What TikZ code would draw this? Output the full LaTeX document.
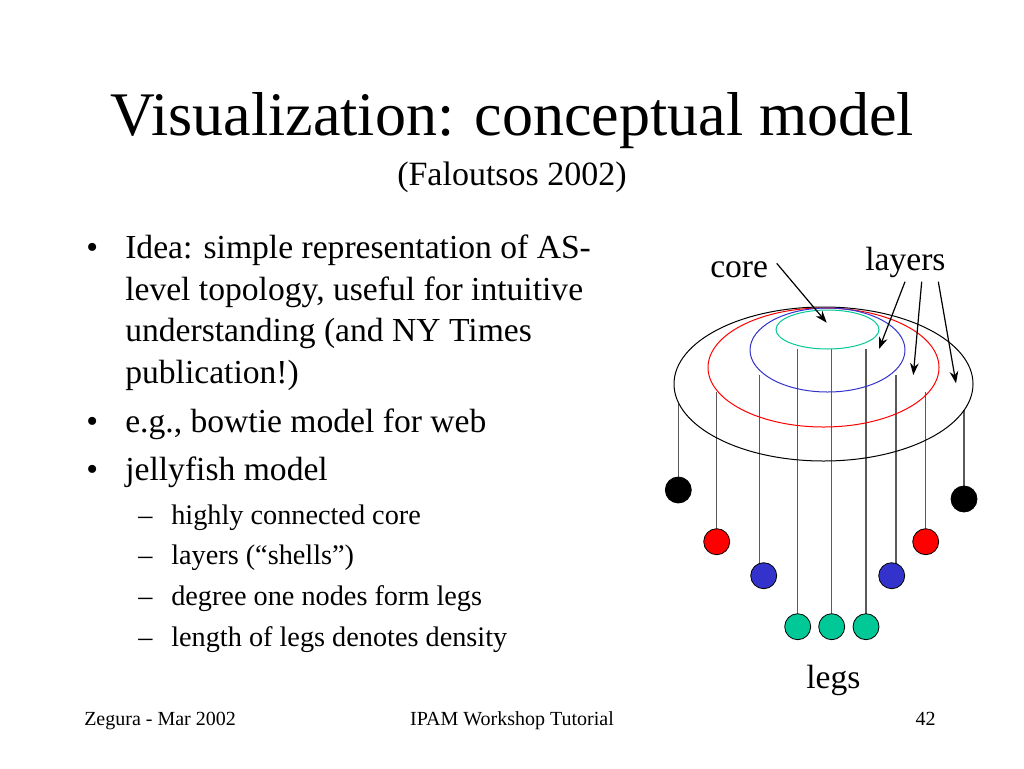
\documentclass[tikz,border=0pt]{standalone}
\usepackage{fontspec}
\setmainfont{Liberation Serif}
\usetikzlibrary{arrows.meta,backgrounds}
\definecolor{cgreen}{HTML}{00C896}
\definecolor{cblue}{HTML}{3333CC}
\definecolor{cred}{HTML}{FF0000}
\definecolor{legc}{HTML}{5A5A5A}
\tikzset{
  txt/.style={inner sep=0pt, anchor=base west},
  ball/.style={circle, draw=black, line width=0.6pt, minimum size=19.5pt, inner sep=0pt},
  legline/.style={draw=legc, line width=1.1pt},
  shell/.style={line width=0.75pt},
  pointer/.style={draw=black, line width=0.9pt, -{Stealth[length=9pt,width=6.5pt]}},
}
\begin{document}
\begin{tikzpicture}[x=0.75pt,y=-0.75pt]
\useasboundingbox (0,0) rectangle (1024,768);

% Title
\node[inner sep=0pt, anchor=base] (title) at (512,135) {\fontsize{46.5}{50}\selectfont Visualization: conceptual model};
\node[inner sep=0pt, anchor=base] (subtitle) at (512,185) {\fontsize{25.5}{28}\selectfont (Faloutsos 2002)};

% Bullets
\begin{scope}[every node/.append style={font=\fontsize{25.2}{30}\selectfont}]
\node[txt] (b1) at (86,258) {•};
\node[txt] (l1) at (125,258) {Idea: simple representation of AS-};
\node[txt] (l2) at (125,300) {level topology, useful for intuitive};
\node[txt] (l3) at (125,341) {understanding (and NY Times};
\node[txt] (l4) at (125,383) {publication!)};
\node[txt] (b2) at (86,432) {•};
\node[txt] (l5) at (125,432) {e.g., bowtie model for web};
\node[txt] (b3) at (86,480) {•};
\node[txt] (l6) at (125,480) {jellyfish model};
\end{scope}
\begin{scope}[every node/.append style={font=\fontsize{21.2}{24}\selectfont}]
\node[txt] (d1) at (138,524) {–};
\node[txt] (s1) at (171,524) {highly connected core};
\node[txt] (d2) at (138,564) {–};
\node[txt] (s2) at (171,564) {layers (“shells”)};
\node[txt] (d3) at (138,605) {–};
\node[txt] (s3) at (171,605) {degree one nodes form legs};
\node[txt] (d4) at (138,646) {–};
\node[txt] (s4) at (171,646) {length of legs denotes density};
\end{scope}

% Footer
\node[inner sep=0pt, anchor=base west] (f1) at (84,725) {\fontsize{15}{17}\selectfont Zegura - Mar 2002};
\node[inner sep=0pt, anchor=base] (f2) at (512,725) {\fontsize{15}{17}\selectfont IPAM Workshop Tutorial};
\node[inner sep=0pt, anchor=base east] (f3) at (936,725) {\fontsize{15}{17}\selectfont 42};

% Shells
\draw[shell, black] (823.5,384) ellipse [x radius=149.5, y radius=77];
\draw[shell, cred] (823.5,367.5) ellipse [x radius=115.5, y radius=59.5];
\draw[shell, cblue] (827.5,350) ellipse [x radius=77.5, y radius=42];
\draw[shell, cgreen] (827.5,329.5) ellipse [x radius=51.5, y radius=19.5];

% Balls
\node[ball, fill=black] (k1) at (678.3,490) {};
\node[ball, fill=cred] (r1) at (716.7,541.7) {};
\node[ball, fill=cblue] (u1) at (763.7,575.7) {};
\node[ball, fill=cgreen] (g1) at (797.7,626.7) {};
\node[ball, fill=cgreen] (g2) at (831.7,626.7) {};
\node[ball, fill=cgreen] (g3) at (866,626.7) {};
\node[ball, fill=cblue] (u2) at (891.7,575.7) {};
\node[ball, fill=cred] (r2) at (925.7,541.7) {};
\node[ball, fill=black] (k2) at (964,499) {};

% Leg tops
\coordinate (tk1) at (678.3,404);
\coordinate (tr1) at (716.7,392);
\coordinate (tu1) at (759.3,375);
\coordinate (tg1) at (797.7,349);
\coordinate (tg2) at (831.7,349);
\coordinate (tg3) at (866,349);
\coordinate (tu2) at (896,375);
\coordinate (tr2) at (925.7,392);
\coordinate (tk2) at (964,410);

\begin{scope}[on background layer]
\fill[white] (0,0) rectangle (1024,768);
\draw[legline] (tk1) -- (k1.center);
\draw[legline] (tr1) -- (r1.center);
\draw[legline] (tu1) -- (tu1 |- u1.center);
\draw[legline] (tg1) -- (g1.center);
\draw[legline] (tg2) -- (g2.center);
\draw[legline] (tg3) -- (g3.center);
\draw[legline] (tu2) -- (tu2 |- u2.center);
\draw[legline] (tr2) -- (r2.center);
\draw[legline] (tk2) -- (k2.center);
\end{scope}

% Labels
\node[txt, font=\fontsize{25.2}{28}\selectfont] (core) at (710,277) {core};
\node[txt, font=\fontsize{25.2}{28}\selectfont] (layers) at (865,270) {layers};
\node[txt, font=\fontsize{25.2}{28}\selectfont] (legs) at (806,688) {legs};

% Pointers
\coordinate (pc) at (826.7,322.7);
\coordinate (pl1) at (879,349);
\coordinate (pl2) at (913.3,375);
\coordinate (pl3) at (956,383.3);
\draw[pointer] (776.7,263.3) -- (pc);
\draw[pointer] (905,281.7) -- (pl1);
\draw[pointer] (921.7,281.7) -- (pl2);
\draw[pointer] (938.3,281.7) -- (pl3);
\end{tikzpicture}
\end{document}
